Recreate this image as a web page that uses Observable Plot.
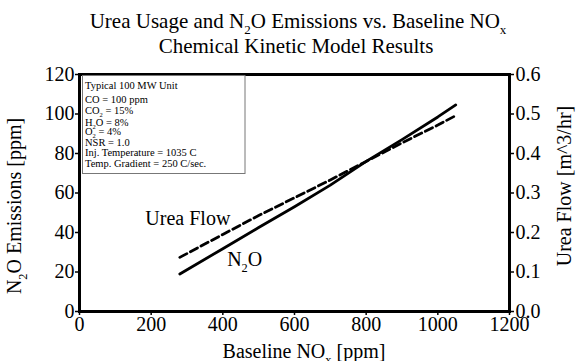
<!DOCTYPE html>
<html><head><meta charset="utf-8">
<script src="https://cdn.jsdelivr.net/npm/d3@7"></script>
<script src="https://cdn.jsdelivr.net/npm/@observablehq/plot@0.6"></script>
<style>body{margin:0;background:#fff}svg{display:block}svg text{font-family:'Liberation Serif','Times New Roman',serif}</style>
</head><body><div id="chart"></div>
<script>
// ---- data ----
const noxBaseline = [280, 400, 500, 600, 700, 800, 900, 1000, 1050];
const n2oPpm      = [19, 31.8, 42.5, 53, 64, 76, 87, 98.5, 104.6];
const ureaFlow    = [0.137, 0.195, 0.243, 0.288, 0.333, 0.38, 0.427, 0.472, 0.496];
const xTicks      = [0, 200, 400, 600, 800, 1000, 1200];
const yLeftTicks  = [0, 20, 40, 60, 80, 100, 120];
const yRightTicks = [0, 0.1, 0.2, 0.3, 0.4, 0.5, 0.6];
const titleLines  = ["Urea Usage and N_2O Emissions vs. Baseline NO_x", "Chemical Kinetic Model Results"];
const infoLines   = ["Typical 100 MW Unit", "CO = 100 ppm", "CO_2 = 15%", "H_2O = 8%", "O_2 = 4%", "NSR = 1.0", "Inj. Temperature = 1035 C", "Temp. Gradient = 250 C/sec."];
const xLabel = "Baseline NO_x [ppm]";
const yLabel = "N_2O Emissions [ppm]";
const y2Label = "Urea Flow [m^3/hr]";
const ureaLabel = "Urea Flow";
const n2oLabel = "N_2O";

const ratio = 200; // 0.6 m^3/hr on the right axis corresponds to 120 ppm on the left
const n2oRows  = noxBaseline.map((x, i) => ({x, y: n2oPpm[i]}));
const ureaRows = noxBaseline.map((x, i) => ({x, y: ureaFlow[i] * ratio}));

const FONT = "'Liberation Serif', 'Times New Roman', serif";
const W = 576, H = 361;
const mL = 79, mR = 67, mT = 74, mB = 50;
const axisText = {fontFamily: FONT, fontSize: 20, strokeWidth: 1.5, label: null};

const plot = Plot.plot({
  width: W, height: H,
  marginLeft: mL, marginRight: mR, marginTop: mT, marginBottom: mB,
  style: {fontFamily: FONT, fontSize: "20px", background: "#fff", color: "#000", overflow: "visible"},
  x: {domain: [0, 1200]},
  y: {domain: [0, 120]},
  marks: [
    Plot.axisX(xTicks, {...axisText, tickSize: 4, tickPadding: 1, tickFormat: d => String(d)}),
    Plot.axisY(yLeftTicks, {...axisText, tickSize: 4, tickPadding: 1, tickFormat: d => String(d)}),
    Plot.axisY(yRightTicks.map(d => d * ratio), {...axisText, anchor: "right", tickSize: 4, tickPadding: 2, tickFormat: d => (d / ratio).toFixed(1)}),
    Plot.line(ureaRows, {x: "x", y: "y", stroke: "#000", strokeWidth: 2.8, strokeDasharray: "8,4"}),
    Plot.line(n2oRows, {x: "x", y: "y", stroke: "#000", strokeWidth: 2.8}),
    Plot.frame({stroke: "#000", strokeWidth: 3})
  ]
});
document.getElementById("chart").appendChild(plot);

const svg = d3.select(plot);
const sx = plot.scale("x"), sy = plot.scale("y");

// rich text helper: "_c" makes the next character a subscript
function rich(sel, str, size) {
  const parts = str.split(/(_.)/).filter(s => s.length);
  let shifted = false;
  for (const p of parts) {
    if (p[0] === "_") {
      sel.append("tspan").attr("font-size", size * 0.62).attr("dy", size * 0.3).text(p[1]);
      shifted = true;
    } else {
      const t = sel.append("tspan").text(p);
      if (shifted) { t.attr("dy", -size * 0.3); shifted = false; }
    }
  }
  return sel;
}
function addText(x, y, str, size, anchor, rotate) {
  const t = svg.append("text")
    .attr("font-family", FONT).attr("font-size", size).attr("fill", "#000")
    .attr("text-anchor", anchor || "start");
  if (rotate) t.attr("transform", `translate(${x},${y}) rotate(${rotate})`);
  else t.attr("x", x).attr("y", y);
  return rich(t, str, size);
}

// titles
addText(298, 28, titleLines[0], 21, "middle");
addText(296, 53, titleLines[1], 21, "middle");
// axis titles
addText(304, 358, xLabel, 20, "middle");
addText(21, 206, yLabel, 20, "middle", -90);
addText(571, 186, y2Label, 20, "middle", -90);

// line labels, anchored to series points
addText(sx.apply(noxBaseline[1]) + 8, sy.apply(ureaFlow[1] * ratio) - 9, ureaLabel, 20, "end");
addText(sx.apply(noxBaseline[2]) - 31, sy.apply(n2oPpm[2]) + 39, n2oLabel, 20, "start");

// info box
svg.append("rect").attr("x", 82.5).attr("y", 75.5).attr("width", 162.5).attr("height", 98)
  .attr("fill", "#fff").attr("stroke", "#777").attr("stroke-width", 1);
const infoY = [89, 103, 114, 125.5, 134.5, 146, 156, 167];
infoLines.forEach((s, i) => addText(85, infoY[i], s, 10.5, "start"));
</script>
</body></html>
